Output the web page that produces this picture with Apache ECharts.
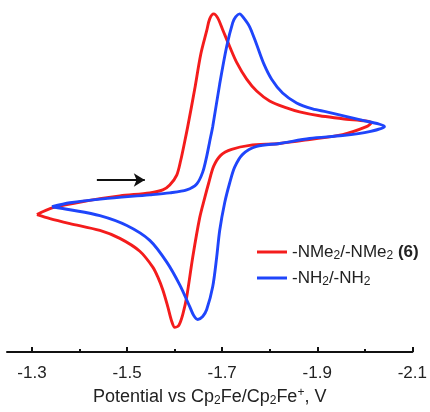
<!DOCTYPE html>
<html>
<head>
<meta charset="utf-8">
<script src="https://cdn.jsdelivr.net/npm/echarts@6/dist/echarts.min.js"></script>
<style>html,body{margin:0;padding:0;background:#fff}#c{width:430px;height:412px}</style>
</head>
<body>
<div id="c"></div>
<script>
// Potential (V vs Cp2Fe/Cp2Fe+) and current (arbitrary units)
const redPotential = [-1.3105,-1.3441,-1.4155,-1.4848,-1.5478,-1.5751,-1.5898,-1.6045,-1.6129,-1.6213,-1.6276,-1.6423,-1.6549,-1.6675,-1.6738,-1.6822,-1.6906,-1.7011,-1.7158,-1.7305,-1.7515,-1.7725,-1.7998,-1.8355,-1.8628,-1.9048,-1.9531,-2.014,
  -2.0035,-1.9531,-1.8838,-1.8208,-1.7578,-1.72,-1.6969,-1.6822,-1.6717,-1.6633,-1.6528,-1.6381,-1.6255,-1.6171,-1.6087,-1.6003,-1.594,-1.5856,-1.5751,-1.5646,-1.5541,-1.5268,-1.4848,-1.4428,-1.3798,-1.3378,-1.3105];
const redCurrent = [-1.7,-1.0,-0.3,0.2,0.5,0.8,1.3,2.3,3.8,5.7,7.2,11.0,14.5,16.9,18.1,18.6,18.2,17.0,15.3,13.7,12.0,10.8,9.8,9.1,8.7,8.3,8.0,7.6,
  7.2,6.4,5.9,5.5,5.3,4.9,4.3,3.2,1.5,0.0,-2.0,-6.0,-10.0,-11.8,-12.9,-13.1,-12.5,-11.0,-9.3,-8.0,-7.0,-5.4,-4.1,-3.3,-2.6,-2.1,-1.7];
const bluePotential = [-1.342,-1.3798,-1.4491,-1.5478,-1.5898,-1.6255,-1.6465,-1.6591,-1.6675,-1.6738,-1.6801,-1.6948,-1.7095,-1.7221,-1.7284,-1.7368,-1.7452,-1.7578,-1.7725,-1.7872,-1.804,-1.8271,-1.8565,-1.8901,-1.9195,-1.9888,-2.0413,
  -2.0098,-1.9531,-1.8838,-1.8208,-1.7725,-1.7431,-1.7263,-1.7158,-1.7053,-1.6948,-1.6885,-1.6801,-1.6675,-1.6591,-1.6486,-1.6402,-1.6318,-1.6108,-1.5835,-1.5478,-1.4995,-1.4428,-1.3798,-1.342];
const blueCurrent = [-0.9,-0.5,-0.1,0.3,0.5,0.8,1.4,2.6,4.2,5.7,7.2,11.5,15.3,17.7,18.3,18.6,18.2,17.3,15.5,13.6,12.0,10.6,9.6,9.0,8.7,7.9,7.2,
  6.7,6.3,6.0,5.5,5.2,4.4,3.1,1.5,-0.5,-3.3,-6.0,-9.0,-11.3,-12.0,-12.3,-11.9,-11.0,-8.8,-6.5,-4.3,-2.8,-1.8,-1.2,-0.9];
const majorTicks = [-2.1,-1.9,-1.7,-1.5,-1.3];
const minorTicks = [-2.0,-1.8,-1.6,-1.4];
const seriesNames = ['-NMe2/-NMe2 (6)', '-NH2/-NH2'];
const legendRich = {
  '-NMe2/-NMe2 (6)': '-NMe{s|2}/-NMe{s|2} {b|(6)}',
  '-NH2/-NH2': '-NH{s|2}/-NH{s|2}'
};
const scanArrow = [[-1.4365, 1.8], [-1.5373, 1.8]];
const axisTitle = 'Potential vs Cp{s|2}Fe/Cp{s|2}Fe{p|+}, V';

const FONT = '"Liberation Sans", Arial, sans-serif';
const pair = (xs, ys) => xs.map((x, i) => [x, ys[i]]);

const chart = echarts.init(document.getElementById('c'), null, {renderer: 'canvas'});
const subRich = {
  s: {fontSize: 12, fontFamily: FONT, color: '#222', padding: [8, 0, 0, 0]},
  p: {fontSize: 12, fontFamily: FONT, color: '#222', padding: [0, 0, 8, 0]},
  b: {fontSize: 17, fontFamily: FONT, color: '#222', fontWeight: 'bold'}
};
chart.setOption({
  animation: false,
  grid: {left: 7, right: 17, top: 6, bottom: 56},
  xAxis: [{
    type: 'value', inverse: true, min: -2.1, max: -1.2475,
    splitLine: {show: false},
    axisLine: {onZero: false, lineStyle: {color: '#111', width: 2}},
    axisTick: {inside: true, length: 5, customValues: majorTicks, lineStyle: {color: '#111', width: 2}},
    axisLabel: {customValues: majorTicks, formatter: v => v.toFixed(1), fontSize: 17, fontFamily: FONT, color: '#222', margin: 13},
    name: axisTitle, nameLocation: 'middle', nameGap: 34,
    nameTextStyle: {fontSize: 18, fontFamily: FONT, color: '#222', rich: {
      s: {fontSize: 12, fontFamily: FONT, color: '#222', padding: [8, 0, 0, 0]},
      p: {fontSize: 12, fontFamily: FONT, color: '#222', padding: [0, 0, 8, 0]}
    }}
  }, {
    type: 'value', inverse: true, min: -2.1, max: -1.2475, position: 'bottom',
    splitLine: {show: false},
    axisLine: {show: false, onZero: false},
    axisTick: {inside: true, length: 3, customValues: minorTicks, lineStyle: {color: '#111', width: 2}},
    axisLabel: {show: false}
  }],
  yAxis: {type: 'value', min: -15.6, max: 19.4, show: false},
  legend: {
    orient: 'vertical', left: 252, top: 237, itemGap: 6,
    itemWidth: 30, itemHeight: 3, icon: 'rect',
    data: seriesNames,
    formatter: n => legendRich[n],
    textStyle: {fontSize: 17, fontFamily: FONT, color: '#222', lineHeight: 20, rich: subRich}
  },
  series: [{
    name: seriesNames[0], type: 'line', data: pair(redPotential, redCurrent),
    showSymbol: false, smooth: 0.3, color: '#f41c1c',
    lineStyle: {width: 2.9, color: '#f41c1c'},
    markLine: {
      silent: true, symbol: ['none', 'arrow'], symbolSize: [10, 11],
      label: {show: false},
      lineStyle: {color: '#111', width: 2.2, type: 'solid'},
      data: [[{coord: scanArrow[0]}, {coord: scanArrow[1]}]]
    }
  }, {
    name: seriesNames[1], type: 'line', data: pair(bluePotential, blueCurrent),
    showSymbol: false, smooth: 0.3, color: '#1f45fb',
    lineStyle: {width: 2.9, color: '#1f45fb'}
  }]
});
</script>
</body>
</html>
